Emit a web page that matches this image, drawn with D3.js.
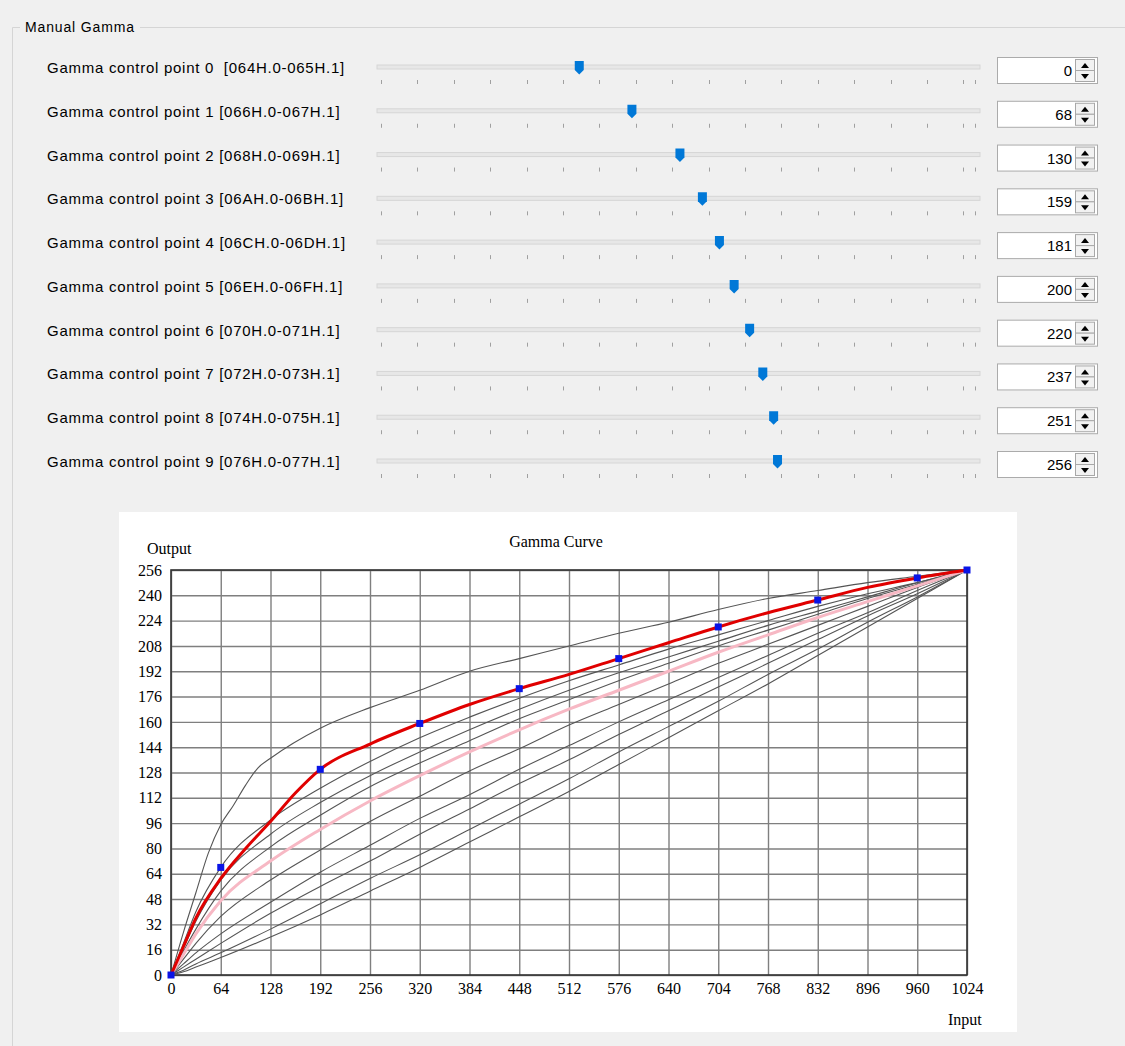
<!DOCTYPE html>
<html>
<head>
<meta charset="utf-8">
<style>
  body { margin: 0; background: #f0f0f0; }
  svg { display: block; }
  .ui { font-family: "Liberation Sans", Arial, sans-serif; fill: #000; white-space: pre; }
  .serif { font-family: "Liberation Serif", "Times New Roman", serif; fill: #000; }
</style>
</head>
<body>
<script src="https://d3js.org/d3.v7.min.js"></script>
<script>
// ---- control point rows ----
var rowLabels = [
  "Gamma control point 0  [064H.0-065H.1]",
  "Gamma control point 1 [066H.0-067H.1]",
  "Gamma control point 2 [068H.0-069H.1]",
  "Gamma control point 3 [06AH.0-06BH.1]",
  "Gamma control point 4 [06CH.0-06DH.1]",
  "Gamma control point 5 [06EH.0-06FH.1]",
  "Gamma control point 6 [070H.0-071H.1]",
  "Gamma control point 7 [072H.0-073H.1]",
  "Gamma control point 8 [074H.0-075H.1]",
  "Gamma control point 9 [076H.0-077H.1]"
];
var pointValues = [0, 68, 130, 159, 181, 200, 220, 237, 251, 256];
var pointInputs = [0, 64, 192, 320, 448, 576, 704, 832, 960, 1024];

// ---- curve data ----
var xTicks = [0, 64, 128, 192, 256, 320, 384, 448, 512, 576, 640, 704, 768, 832, 896, 960, 1024];
var yTicks = [0, 16, 32, 48, 64, 80, 96, 112, 128, 144, 160, 176, 192, 208, 224, 240, 256];

var redInputs = [0, 16, 32, 64, 96, 128, 160, 192, 256, 320, 384, 448, 512, 576, 640, 704, 768, 832, 896, 960, 1024];
var redValues = [0, 18, 36, 61, 80, 97, 115, 130, 146, 159, 171, 181, 190, 200, 210, 220, 229, 237, 245, 251, 256];

var curveInputs = [0, 16, 32, 64, 128, 192, 256, 320, 384, 448, 512, 576, 640, 704, 768, 832, 896, 960, 1024];
var pinkValues  = [0, 13, 26, 47, 72, 92, 110, 126, 141, 155, 168, 180, 192, 204, 215, 226, 236, 246, 256];

var topInputs = [0, 16, 32, 48, 64, 80, 96, 112, 128, 192, 256, 320, 384, 448, 512, 576, 640, 704, 768, 832, 896, 960, 1024];
var grayTop   = [0, 27, 52, 77, 95, 107, 120, 131, 137, 156, 169, 180, 192, 200, 208, 216, 223, 231, 238, 243, 248, 252, 256];

var grayA = [0, 20, 40, 68, 98, 118, 135, 150, 163, 175, 186, 196, 206, 215, 224, 233, 241, 248, 256];
var grayB = [0, 17, 34, 60, 89, 109, 126, 141, 155, 168, 180, 191, 201, 211, 221, 230, 239, 248, 256];
var grayC = [0, 15, 29, 53, 81, 101, 119, 134, 148, 162, 174, 186, 197, 208, 218, 228, 238, 247, 256];
var grayD = [0, 10, 20, 37, 60, 79, 97, 113, 129, 143, 158, 171, 184, 197, 209, 221, 233, 245, 256];
var grayE = [0, 7, 14, 26, 46, 65, 82, 99, 114, 130, 145, 160, 174, 188, 202, 216, 229, 243, 256];
var grayF = [0, 5, 10, 20, 39, 56, 72, 89, 105, 121, 136, 152, 167, 182, 197, 212, 227, 241, 256];
var grayG = [0, 3, 7, 14, 29, 45, 61, 76, 92, 108, 124, 141, 157, 173, 190, 206, 223, 239, 256];
var grayH = [0, 2, 5, 11, 24, 38, 53, 68, 84, 100, 116, 133, 150, 167, 184, 202, 220, 238, 256];

var W = 1125, H = 1046;
var svg = d3.select("body").append("svg")
    .attr("width", W)
    .attr("height", H);

svg.append("rect").attr("width", W).attr("height", H).attr("fill", "#f0f0f0");

// group box
svg.append("path")
    .attr("d", "M20,27.5 H12.5 V" + H + " M140,27.5 H" + W)
    .attr("fill", "none").attr("stroke", "#d5d5d5");
svg.append("text").attr("class", "ui")
    .attr("x", 25).attr("y", 32)
    .style("font-size", "14px")
    .attr("textLength", 109).attr("lengthAdjust", "spacing")
    .text("Manual Gamma");

// ---- slider rows ----
var rowY = d3.scaleLinear().domain([0, 9]).range([68, 462]);
var sx = d3.scaleLinear().domain([-256, 511]).range([381, 975]);
var sliderTicks = d3.range(-256, 512, 47).concat([511]);

var rows = svg.selectAll(".row").data(pointValues).enter().append("g")
    .attr("class", "row")
    .attr("transform", function(d, i) { return "translate(0," + rowY(i) + ")"; });

rows.append("text").attr("class", "ui")
    .attr("x", 47).attr("y", 5)
    .style("font-size", "15px")
    .text(function(d, i) { return rowLabels[i]; })
    .each(function() {
      var n = this.getComputedTextLength();
      d3.select(this).attr("textLength", n * 1.1).attr("lengthAdjust", "spacing");
    });

rows.append("rect")
    .attr("x", 377).attr("y", -3).attr("width", 603).attr("height", 4)
    .attr("fill", "#e7e7e7").attr("stroke", "#d6d6d6");

rows.selectAll(".stick").data(sliderTicks).enter().append("line")
    .attr("x1", function(t) { return Math.round(sx(t)) + 0.5; })
    .attr("x2", function(t) { return Math.round(sx(t)) + 0.5; })
    .attr("y1", 12).attr("y2", 16)
    .attr("stroke", "#a0a0a0");

rows.append("path")
    .attr("d", function(d) {
      var c = sx(d);
      return "M" + (c - 4.5) + ",-7 h9 v9 l-4.5,4.5 l-4.5,-4.5 z";
    })
    .attr("fill", "#0078d7");

// spin boxes
rows.append("rect")
    .attr("x", 997.5).attr("y", -10.5).attr("width", 100).attr("height", 26)
    .attr("fill", "#fff").attr("stroke", "#ababab");
rows.append("text").attr("class", "ui")
    .attr("x", 1072).attr("y", 8)
    .attr("text-anchor", "end")
    .style("font-size", "15px")
    .text(function(d) { return d; });
rows.append("rect")
    .attr("x", 1075.5).attr("y", -8.5).attr("width", 19).attr("height", 11)
    .attr("fill", "#f2f2f2").attr("stroke", "#a8a8a8");
rows.append("rect")
    .attr("x", 1075.5).attr("y", 2.5).attr("width", 19).attr("height", 11)
    .attr("fill", "#f2f2f2").attr("stroke", "#a8a8a8");
rows.append("path").attr("d", "M1081,0 L1085,-5 L1089,0 Z").attr("fill", "#000");
rows.append("path").attr("d", "M1081,6 L1089,6 L1085,11 Z").attr("fill", "#000");

// ---- chart panel ----
svg.append("rect")
    .attr("x", 119).attr("y", 512).attr("width", 898).attr("height", 520)
    .attr("fill", "#fff");

var x = d3.scaleLinear().domain([0, 1024]).range([171, 967]);
var y = d3.scaleLinear().domain([0, 256]).range([975, 570]);

var xAxis = d3.axisBottom(x).tickValues(xTicks).tickFormat(d3.format("d"))
    .tickSize(-(975 - 570)).tickPadding(8);
var yAxis = d3.axisLeft(y).tickValues(yTicks).tickFormat(d3.format("d"))
    .tickSize(-(967 - 171)).tickPadding(9);

var gx = svg.append("g").attr("transform", "translate(0,975)").call(xAxis);
var gy = svg.append("g").attr("transform", "translate(171,0)").call(yAxis);
[gx, gy].forEach(function(g) {
  g.select(".domain").remove();
  g.selectAll(".tick line").attr("stroke", "#7f7f7f").attr("stroke-width", 1.4);
  g.selectAll(".tick text").attr("class", "serif")
    .style("font-size", "16px").attr("fill", "#111");
});

// plot frame
svg.append("rect")
    .attr("x", 171).attr("y", 570).attr("width", 796).attr("height", 405)
    .attr("fill", "none").attr("stroke", "#333").attr("stroke-width", 1.6);

svg.append("text").attr("class", "serif")
    .attr("x", 556).attr("y", 547).attr("text-anchor", "middle")
    .style("font-size", "16px").text("Gamma Curve");
svg.append("text").attr("class", "serif")
    .attr("x", 147).attr("y", 554)
    .style("font-size", "16px").text("Output");
svg.append("text").attr("class", "serif")
    .attr("x", 948).attr("y", 1025)
    .style("font-size", "16px").text("Input");

// ---- curves ----
function lineFor(xs) {
  return d3.line()
    .curve(d3.curveMonotoneX)
    .x(function(d, i) { return x(xs[i]); })
    .y(function(d) { return y(d); });
}

var grays = [grayH, grayG, grayF, grayE, grayD, grayC, grayB, grayA];
grays.forEach(function(vals) {
  svg.append("path")
    .attr("d", lineFor(curveInputs)(vals))
    .attr("fill", "none").attr("stroke", "#555").attr("stroke-width", 1.1);
});
svg.append("path")
  .attr("d", lineFor(topInputs)(grayTop))
  .attr("fill", "none").attr("stroke", "#555").attr("stroke-width", 1.1);

svg.append("path")
  .attr("d", lineFor(curveInputs)(pinkValues))
  .attr("fill", "none").attr("stroke", "#f7b8c4").attr("stroke-width", 3);

svg.append("path")
  .attr("d", lineFor(redInputs)(redValues))
  .attr("fill", "none").attr("stroke", "#e00000").attr("stroke-width", 3);

svg.selectAll(".cp").data(pointValues).enter().append("rect")
  .attr("class", "cp")
  .attr("x", function(d, i) { return x(pointInputs[i]) - 3.5; })
  .attr("y", function(d) { return y(d) - 3.5; })
  .attr("width", 7).attr("height", 7)
  .attr("fill", "#0a14e6");
</script>
</body>
</html>
